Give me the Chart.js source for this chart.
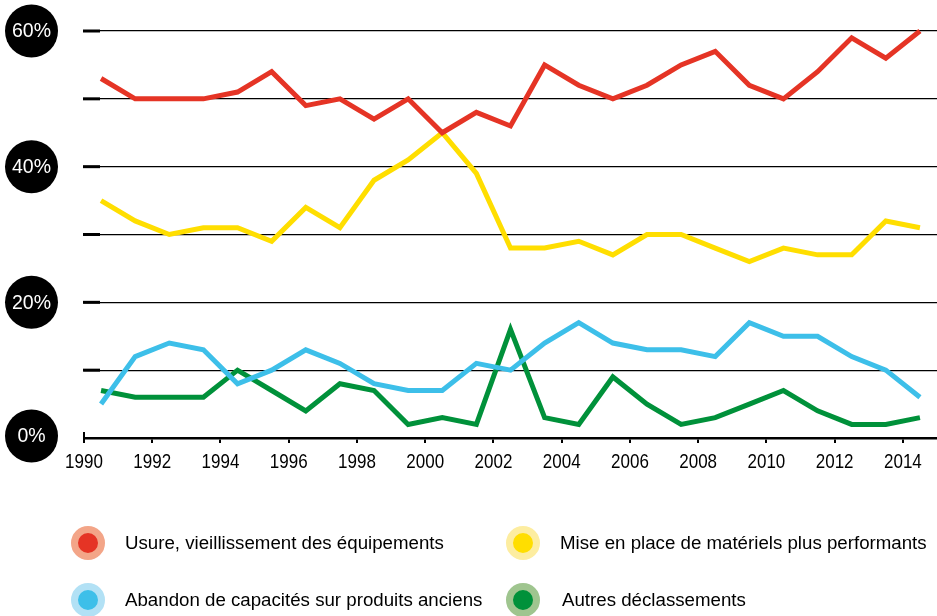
<!DOCTYPE html>
<html lang="fr">
<head>
<meta charset="utf-8">
<title>Motifs de déclassement des équipements, 1990-2014</title>
<script src="https://cdn.jsdelivr.net/npm/chart.js@4/dist/chart.umd.min.js"></script>
<style>
  html, body { margin: 0; padding: 0; background: #ffffff; }
  #wrap { position: relative; width: 937px; height: 616px; overflow: hidden; }
  #chart { position: absolute; left: 0; top: 0; }
  .leg { position: absolute; font-family: "Liberation Sans", Arial, sans-serif; font-size: 18.7px; color: #000; white-space: nowrap; line-height: 22px; }
  .dot { position: absolute; width: 20px; height: 20px; border-radius: 50%; border: 7px solid; box-sizing: content-box; }
</style>
</head>
<body>
<div id="wrap">
  <canvas id="chart" width="937" height="616"></canvas>
  <div id="legend"></div>
</div>
<script>
// Années d'observation (valeurs placées au milieu de chaque année)
const years = [1990, 1991, 1992, 1993, 1994, 1995, 1996, 1997, 1998, 1999, 2000, 2001, 2002,
               2003, 2004, 2005, 2006, 2007, 2008, 2009, 2010, 2011, 2012, 2013, 2014];

// Part de chaque motif de déclassement (%)
const usure       = [53, 50, 50, 50, 51, 54, 49, 50, 47, 50, 45, 48, 46, 55, 52, 50, 52, 55, 57, 52, 50, 54, 59, 56, 60];
const miseEnPlace = [35, 32, 30, 31, 31, 29, 34, 31, 38, 41, 45, 39, 28, 28, 29, 27, 30, 30, 28, 26, 28, 27, 27, 32, 31];
const abandon     = [5, 12, 14, 13, 8, 10, 13, 11, 8, 7, 7, 11, 10, 14, 17, 14, 13, 13, 12, 17, 15, 15, 12, 10, 6];
const autres      = [7, 6, 6, 6, 10, 7, 4, 8, 7, 2, 3, 2, 16, 3, 2, 9, 5, 2, 3, 5, 7, 4, 2, 2, 3];

// Graduations
const yTicks = [0, 10, 20, 30, 40, 50, 60];
const yLabelled = [0, 20, 40, 60];
const xTicks = [1990, 1992, 1994, 1996, 1998, 2000, 2002, 2004, 2006, 2008, 2010, 2012, 2014];

const seriesNames = [
  "Usure, vieillissement des équipements",
  "Mise en place de matériels plus performants",
  "Abandon de capacités sur produits anciens",
  "Autres déclassements"
];
const lineColors = ["#e53425", "#ffde00", "#3dbfe9", "#00913a"];
const haloColors = ["#f3a588", "#fdeda0", "#b2e1f5", "#9fc58f"];

function toPoints(values) {
  return values.map((v, i) => ({ x: years[i] + 0.5, y: v }));
}

// Étiquettes des axes : pastilles noires à gauche, années en caractères étroits
const axisDecor = {
  id: 'axisDecor',
  afterDraw(chart) {
    const ctx = chart.ctx;
    const x = chart.scales.x;
    const y = chart.scales.y;
    const area = chart.chartArea;
    ctx.save();
    ctx.fillStyle = '#000';
    yTicks.forEach(v => {
      const py = y.getPixelForValue(v);
      if (v > 0) ctx.fillRect(area.left - 1, py - 1.5, 17, 3);
    });
    // repère vertical à l'origine de l'axe des années
    ctx.fillRect(area.left - 1, area.bottom - 6, 2, 11);
    yLabelled.forEach(v => {
      const py = y.getPixelForValue(v) - (v === 0 ? 2 : 0);
      ctx.beginPath();
      ctx.arc(31.5, py, 26.5, 0, Math.PI * 2);
      ctx.fillStyle = '#000';
      ctx.fill();
      ctx.fillStyle = '#fff';
      ctx.font = '19.5px "Liberation Sans", Arial, sans-serif';
      ctx.textAlign = 'center';
      ctx.textBaseline = 'middle';
      ctx.fillText(v + '%', 31.5, py + 1);
    });
    // années sous l'axe horizontal
    ctx.fillStyle = '#000';
    ctx.font = '21px "Liberation Sans", Arial, sans-serif';
    ctx.textAlign = 'center';
    ctx.textBaseline = 'alphabetic';
    xTicks.forEach(v => {
      const px = x.getPixelForValue(v);
      ctx.save();
      ctx.translate(px, area.bottom + 29.5);
      ctx.scale(0.81, 1);
      ctx.fillText(String(v), 0, 0);
      ctx.restore();
    });
    ctx.restore();
  }
};

const datasets = [usure, miseEnPlace, abandon, autres].map((vals, i) => ({
  label: seriesNames[i],
  data: toPoints(vals),
  borderColor: lineColors[i],
  backgroundColor: lineColors[i],
  borderWidth: 5,
  pointRadius: 0,
  tension: 0,
  borderJoinStyle: 'miter',
  borderCapStyle: 'butt',
  clip: false,
  order: [0, 3, 1, 2][i]
}));

new Chart(document.getElementById('chart'), {
  type: 'line',
  data: { datasets },
  options: {
    responsive: false,
    animation: false,
    events: [],
    layout: { padding: { left: 0, right: 0, top: 31, bottom: 138 } },
    plugins: { legend: { display: false }, tooltip: { enabled: false } },
    scales: {
      x: {
        type: 'linear',
        min: years[0],
        max: years[years.length - 1] + 1,
        afterBuildTicks(scale) { scale.ticks = xTicks.map(v => ({ value: v })); },
        afterFit(scale) { scale.height = 40; },
        ticks: { display: false, autoSkip: false },
        grid: { drawOnChartArea: false, drawTicks: true, tickLength: 5, color: '#000', lineWidth: 2 },
        border: { display: true, color: '#000', width: 2.5 }
      },
      y: {
        min: 0,
        max: 60,
        afterBuildTicks(scale) { scale.ticks = yTicks.map(v => ({ value: v })); },
        afterFit(scale) { scale.width = 84; },
        ticks: { display: false },
        grid: { drawTicks: false, color: '#000', lineWidth: 1.3 },
        border: { display: false }
      }
    }
  },
  plugins: [axisDecor]
});

// Légende en deux colonnes sous le graphique
const legendPos = [
  { cx: 88, cy: 543, tx: 125 },
  { cx: 523, cy: 543, tx: 560 },
  { cx: 88, cy: 600, tx: 125 },
  { cx: 523, cy: 600, tx: 562 }
];
const legend = document.getElementById('legend');
seriesNames.forEach((name, s) => {
  const p = legendPos[s];
  const dot = document.createElement('div');
  dot.className = 'dot';
  dot.style.left = (p.cx - 17) + 'px';
  dot.style.top = (p.cy - 17) + 'px';
  dot.style.background = lineColors[s];
  dot.style.borderColor = haloColors[s];
  legend.appendChild(dot);
  const txt = document.createElement('div');
  txt.className = 'leg';
  txt.style.left = p.tx + 'px';
  txt.style.top = (p.cy - 11) + 'px';
  txt.textContent = name;
  legend.appendChild(txt);
});
</script>
</body>
</html>
